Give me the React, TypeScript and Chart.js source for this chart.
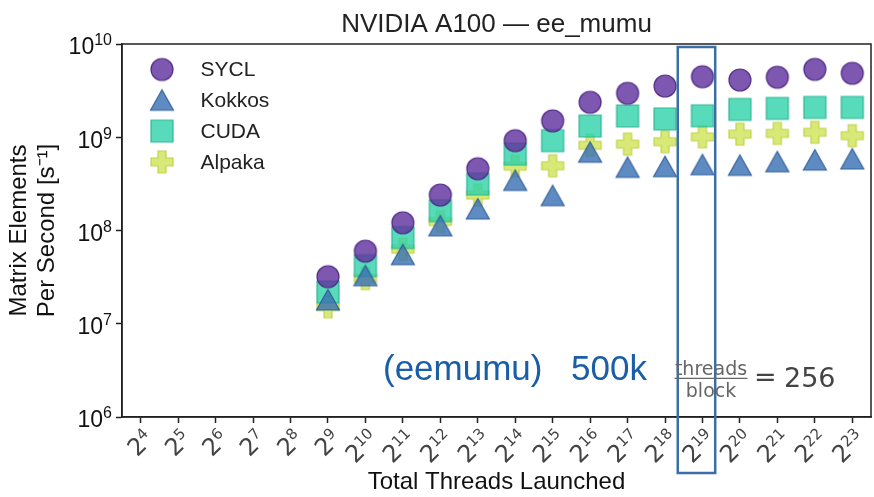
import React, { useEffect, useRef } from 'react';
import { Chart, registerables } from 'chart.js';

Chart.register(...registerables);

// ---------------- data ----------------
const CHART_TITLE = 'NVIDIA A100 — ee_mumu';
const X_TITLE = 'Total Threads Launched';
const Y_TITLE = ['Matrix Elements', 'Per Second [s⁻¹]'];

// x = log2(total threads launched)
const EXPONENTS = [9, 10, 11, 12, 13, 14, 15, 16, 17, 18, 19, 20, 21, 22, 23];

const SERIES_LABELS = ['SYCL', 'Kokkos', 'CUDA', 'Alpaka'];

const SYCL_RATE = [3.2e7, 6.0e7, 1.21e8, 2.4e8, 4.6e8, 9.2e8, 1.5e9, 2.37e9, 2.96e9, 3.54e9, 4.46e9, 4.11e9, 4.4e9, 5.35e9, 4.85e9];
const KOKKOS_RATE = [1.8e7, 3.27e7, 5.5e7, 1.12e8, 1.7e8, 3.44e8, 2.36e8, 6.9e8, 4.75e8, 4.83e8, 5.07e8, 4.99e8, 5.45e8, 5.69e8, 5.84e8];
const CUDA_RATE = [2.2e7, 4.2e7, 8.4e7, 1.63e8, 3.15e8, 6.6e8, 9.2e8, 1.32e9, 1.69e9, 1.57e9, 1.7e9, 1.99e9, 2.04e9, 2.09e9, 2.09e9];
const ALPAKA_RATE = [1.52e7, 3.05e7, 6.3e7, 1.25e8, 2.4e8, 4.9e8, 4.94e8, 8.2e8, 8.45e8, 8.96e8, 1.01e9, 1.08e9, 1.1e9, 1.13e9, 1.04e9];

const X_TICK_EXPONENTS = [4, 5, 6, 7, 8, 9, 10, 11, 12, 13, 14, 15, 16, 17, 18, 19, 20, 21, 22, 23];
const X_TICK_BASE = '2';
const Y_TICK_EXPONENTS = [6, 7, 8, 9, 10];
const Y_TICK_BASE = '10';

const HIGHLIGHT_EXPONENT = 19;
const NOTE_MAIN = '(eemumu)';
const NOTE_EVENTS = '500k';
const NOTE_NUM = 'threads';
const NOTE_DEN = 'block';
const NOTE_VALUE = '256';

// ---------------- styling ----------------
const SANS = '"Liberation Sans", Arial, Helvetica, sans-serif';
const DEJAVU = '"DejaVu Sans", sans-serif';

const STYLES = [
  { shape: 'circle', fill: 'rgba(98, 50, 160, 0.82)', edge: 'rgba(72, 34, 125, 0.9)' },
  { shape: 'triangle', fill: 'rgba(58, 114, 180, 0.82)', edge: 'rgba(45, 92, 150, 0.9)' },
  { shape: 'square', fill: 'rgba(45, 210, 170, 0.8)', edge: 'rgba(40, 178, 142, 0.9)' },
  { shape: 'plus', fill: 'rgba(208, 228, 85, 0.8)', edge: 'rgba(188, 208, 62, 0.9)' },
];

function makeMarker(shape: string, fill: string, edge: string): HTMLCanvasElement {
  const s = 28;
  const c = document.createElement('canvas');
  c.width = s;
  c.height = s;
  const g = c.getContext('2d')!;
  const m = s / 2;
  g.fillStyle = fill;
  g.strokeStyle = edge;
  g.lineWidth = 1.2;
  g.lineJoin = 'miter';
  g.beginPath();
  if (shape === 'circle') {
    g.arc(m, m, 11, 0, Math.PI * 2);
  } else if (shape === 'triangle') {
    g.moveTo(m, m - 10.5);
    g.lineTo(m + 11.5, m + 10);
    g.lineTo(m - 11.5, m + 10);
    g.closePath();
  } else if (shape === 'square') {
    g.rect(m - 11, m - 11, 22, 22);
  } else {
    const a = 4, b = 11;
    g.moveTo(m - a, m - b);
    g.lineTo(m + a, m - b);
    g.lineTo(m + a, m - a);
    g.lineTo(m + b, m - a);
    g.lineTo(m + b, m + a);
    g.lineTo(m + a, m + a);
    g.lineTo(m + a, m + b);
    g.lineTo(m - a, m + b);
    g.lineTo(m - a, m + a);
    g.lineTo(m - b, m + a);
    g.lineTo(m - b, m - a);
    g.lineTo(m - a, m - a);
    g.closePath();
  }
  g.fill();
  g.stroke();
  return c;
}

const framePlugin = {
  id: 'frame',
  afterDatasetsDraw(chart: any) {
    const { ctx, chartArea: a } = chart;
    ctx.save();
    ctx.strokeStyle = '#222';
    ctx.lineWidth = 1.5;
    ctx.strokeRect(a.left, a.top, a.right - a.left, a.bottom - a.top);
    ctx.restore();
  },
};

const tickLabelPlugin = {
  id: 'superTicks',
  afterDraw(chart: any) {
    const { ctx } = chart;
    const xs = chart.scales.x;
    const ys = chart.scales.y;
    ctx.save();
    // y tick labels 10^n
    ctx.fillStyle = '#111';
    ctx.textAlign = 'right';
    ctx.textBaseline = 'alphabetic';
    for (const e of Y_TICK_EXPONENTS) {
      const py = ys.getPixelForValue(Math.pow(10, e));
      const right = ys.right - 10;
      ctx.font = `16px ${SANS}`;
      const ew = ctx.measureText(String(e)).width;
      ctx.fillText(String(e), right, py + 1.3);
      ctx.font = `23px ${SANS}`;
      ctx.fillText(Y_TICK_BASE, right - ew, py + 10.3);
    }
    // x tick labels 2^n, rotated 45 degrees
    ctx.fillStyle = '#444';
    for (const e of X_TICK_EXPONENTS) {
      const px = xs.getPixelForValue(e);
      ctx.save();
      ctx.translate(px + 14, xs.top + 23);
      ctx.rotate(-Math.PI / 4);
      ctx.textAlign = 'right';
      ctx.font = `15px ${DEJAVU}`;
      const ew = ctx.measureText(String(e)).width;
      ctx.fillText(String(e), 0, -8);
      ctx.font = `24px ${DEJAVU}`;
      ctx.fillText(X_TICK_BASE, -ew, 0);
      ctx.restore();
    }
    ctx.restore();
  },
};

const legendPlugin = {
  id: 'insideLegend',
  afterDraw(chart: any) {
    const { ctx, chartArea: a } = chart;
    ctx.save();
    ctx.font = `21px ${SANS}`;
    ctx.fillStyle = '#222';
    ctx.textAlign = 'left';
    ctx.textBaseline = 'middle';
    chart.data.datasets.forEach((ds: any, i: number) => {
      const cy = a.top + 25.5 + i * 30.8;
      const cx = a.left + 40;
      const img = ds.pointStyle as HTMLCanvasElement;
      ctx.drawImage(img, cx - img.width / 2, cy - img.height / 2);
      ctx.fillText(ds.label, a.left + 78.5, cy + 1);
    });
    ctx.restore();
  },
};

const notePlugin = {
  id: 'note',
  afterDraw(chart: any) {
    const { ctx, chartArea: a } = chart;
    const xs = chart.scales.x;
    ctx.save();
    // highlight box around 2^19
    const x1 = xs.getPixelForValue(HIGHLIGHT_EXPONENT - 0.66);
    const x2 = xs.getPixelForValue(HIGHLIGHT_EXPONENT + 0.34);
    ctx.strokeStyle = '#3c6ea6';
    ctx.lineWidth = 2.5;
    ctx.strokeRect(x1, a.top + 3, x2 - x1, a.bottom + 56 - (a.top + 3));

    // annotation text
    ctx.textBaseline = 'alphabetic';
    ctx.textAlign = 'left';
    ctx.fillStyle = '#1b5ea8';
    ctx.font = `35px ${SANS}`;
    ctx.fillText(NOTE_MAIN, a.left + 261, a.top + 336);
    ctx.fillText(NOTE_EVENTS, a.left + 449, a.top + 336);

    // fraction threads / block = 256
    const fx = a.left + 589;
    ctx.fillStyle = '#666';
    ctx.textAlign = 'center';
    ctx.font = `19px ${DEJAVU}`;
    ctx.fillText(NOTE_NUM, fx, a.top + 330.5);
    ctx.fillText(NOTE_DEN, fx, a.top + 352.5);
    ctx.strokeStyle = '#666';
    ctx.lineWidth = 1.3;
    ctx.beginPath();
    ctx.moveTo(fx - 36.5, a.top + 334.3);
    ctx.lineTo(fx + 36.5, a.top + 334.3);
    ctx.stroke();
    ctx.fillStyle = '#444';
    ctx.textAlign = 'left';
    ctx.font = `27px ${DEJAVU}`;
    ctx.fillText('=', a.left + 632, a.top + 342);
    ctx.fillText(NOTE_VALUE, a.left + 662, a.top + 342.7);
    ctx.restore();
  },
};

export default function App() {
  const ref = useRef<HTMLCanvasElement>(null);

  useEffect(() => {
    document.body.style.margin = '0';
    const canvas = ref.current!;
    const rates = [SYCL_RATE, KOKKOS_RATE, CUDA_RATE, ALPAKA_RATE];
    const datasets = SERIES_LABELS.map((label, i) => {
      const st = STYLES[i];
      const img = makeMarker(st.shape, st.fill, st.edge);
      return {
        type: 'scatter' as const,
        label,
        data: EXPONENTS.map((x, j) => ({ x, y: rates[i][j] })),
        pointStyle: img,
        pointRadius: 11,
        pointHoverRadius: 11,
        backgroundColor: st.fill,
        borderColor: st.edge,
        showLine: false,
      };
    });

    const chart = new Chart(canvas, {
      type: 'scatter',
      data: { datasets },
      options: {
        animation: false,
        responsive: false,
        events: [],
        layout: { autoPadding: false, padding: { left: 0, right: 3, top: 0, bottom: 0 } },
        plugins: {
          legend: { display: false },
          tooltip: { enabled: false },
          title: {
            display: true,
            text: CHART_TITLE,
            fullSize: false,
            color: '#222',
            font: { family: SANS, size: 26, weight: 'normal', lineHeight: 1.2 },
            padding: { top: 9, bottom: 3.8 },
          },
        },
        scales: {
          x: {
            type: 'linear',
            min: 3.5,
            max: 23.5,
            afterBuildTicks: (scale: any) => {
              scale.ticks = X_TICK_EXPONENTS.map((v) => ({ value: v }));
            },
            afterFit: (scale: any) => {
              scale.height = 80;
            },
            ticks: { display: false },
            grid: {
              display: true,
              drawOnChartArea: false,
              drawTicks: true,
              tickLength: 6,
              tickColor: '#222',
              tickWidth: 1.5,
            },
            border: { display: true, color: '#222', width: 1.5 },
            title: {
              display: true,
              text: X_TITLE,
              color: '#111',
              font: { family: SANS, size: 24, lineHeight: 1.2 },
              padding: { top: 0, bottom: 0 },
            },
          },
          y: {
            type: 'logarithmic',
            min: 1e6,
            max: 1e10,
            afterBuildTicks: (scale: any) => {
              scale.ticks = Y_TICK_EXPONENTS.map((e) => ({ value: Math.pow(10, e) }));
            },
            afterFit: (scale: any) => {
              scale.width = 122;
            },
            ticks: { display: false },
            grid: {
              display: true,
              drawOnChartArea: false,
              drawTicks: true,
              tickLength: 6,
              tickColor: '#222',
              tickWidth: 1.5,
            },
            border: { display: true, color: '#222', width: 1.5 },
            title: {
              display: true,
              text: Y_TITLE,
              color: '#111',
              font: { family: SANS, size: 24, lineHeight: 28 / 24 },
              padding: { top: 5.5, bottom: 0 },
            },
          },
        },
      } as any,
      plugins: [framePlugin, tickLabelPlugin, legendPlugin, notePlugin],
    });

    return () => chart.destroy();
  }, []);

  return (
    <div style={{ width: 874, height: 497 }}>
      <canvas ref={ref} width={874} height={497} style={{ display: 'block' }} />
    </div>
  );
}
